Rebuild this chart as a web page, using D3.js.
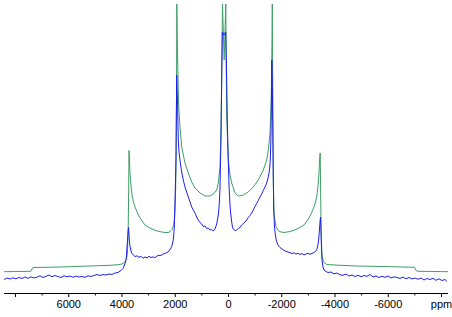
<!DOCTYPE html>
<html>
<head>
<meta charset="utf-8">
<script src="https://cdn.jsdelivr.net/npm/d3@7"></script>
<style>
html,body{margin:0;padding:0;background:#fff;}
svg{display:block;}
</style>
</head>
<body>
<div id="chart"></div>
<script>
// Chemical shift (ppm) and intensity (a.u.) — simulated spectrum (green)
const simPpm = [8413,7812,7399,7343,7287,6310,5183,4432,4132,3981,3869,3812,3775,3749,3730,3718,3700,3681,3643,3606,3549,3493,3399,3305,3117,2930,2742,2554,2366,2254,2178,2103,2047,2009,1979,1953,1934,1923,1904,1867,1840,1803,1739,1615,1491,1363,1239,1052,864,676,552,424,364,300,263,237,207,143,83,49,-11,-75,-139,-263,-387,-575,-762,-950,-1138,-1326,-1454,-1514,-1578,-1623,-1653,-1664,-1683,-1701,-1728,-1765,-1803,-1916,-2103,-2291,-2479,-2667,-2855,-3042,-3136,-3230,-3287,-3343,-3380,-3418,-3440,-3463,-3478,-3501,-3531,-3580,-3707,-4207,-4834,-6085,-7005,-7061,-7136,-8263];
const simInt = [18.3,18.5,18.7,22,22.5,23,24,24.7,25.3,26,28,31,38,60,100,139.5,130,117,104,95,88,83,77,72,65,62,59.7,58.3,57.5,57.5,58.3,60.5,64.5,71,85,120,190,286,250,197,178,163,143,127,117,108,102,97,94,94,96,100,107,123,163,210,286,230,286,173,130,115,107,97,94,95,98,103,110,120,130,140,157,190,250,286,190,110,77,69,63.3,58.5,57.5,58.3,59.7,62,65,72,77,83,88,95,104,117,130,137,100,55,35,28,25.5,24.7,24,23.3,22.7,19.5,18.7,18.3];

// Experimental spectrum (blue)
const expPpm = [8413,8301,8188,8075,7963,7850,7737,7625,7512,7399,7287,7174,7061,6949,6836,6723,6611,6498,6385,6273,6160,6047,5934,5822,5709,5596,5484,5371,5258,5146,5033,4920,4808,4695,4582,4470,4357,4244,4132,4019,3944,3869,3820,3782,3745,3734,3707,3681,3643,3606,3557,3493,3418,3343,3268,3193,3117,3042,2967,2892,2817,2742,2667,2592,2517,2441,2366,2291,2216,2160,2115,2077,2047,2017,1979,1953,1927,1904,1889,1867,1840,1803,1739,1679,1615,1551,1491,1427,1363,1303,1239,1176,1116,1052,988,928,864,800,740,676,612,552,488,424,364,327,300,263,237,214,150,86,56,26,0,-38,-75,-101,-139,-169,-199,-263,-327,-387,-451,-515,-575,-639,-702,-762,-826,-890,-950,-1014,-1078,-1138,-1202,-1266,-1326,-1390,-1454,-1514,-1559,-1589,-1615,-1634,-1645,-1664,-1679,-1698,-1716,-1747,-1784,-1822,-1878,-1953,-2028,-2103,-2178,-2254,-2329,-2404,-2479,-2554,-2629,-2704,-2779,-2855,-2930,-3005,-3080,-3155,-3230,-3287,-3332,-3369,-3399,-3429,-3456,-3474,-3493,-3512,-3531,-3568,-3606,-3681,-3756,-3869,-3981,-4094,-4207,-4319,-4432,-4545,-4657,-4770,-4883,-4995,-5108,-5221,-5334,-5446,-5559,-5672,-5784,-5897,-6010,-6122,-6235,-6348,-6460,-6573,-6686,-6798,-6911,-7024,-7136,-7249,-7362,-7474,-7587,-7700,-7812,-7925,-8038,-8150,-8226];
const expInt = [10.5,12,11,12.2,11.2,12.5,11.5,13,11.7,13.2,12,13,14.2,12.5,13.7,15,13.2,14.5,13.5,12.5,14.2,13.2,14,12.7,14,13,13.5,12.7,14.2,13.5,14.5,15.5,14.5,15.5,15,16,15.5,17,17.5,19.5,21.5,26,32,47,61,62.5,50,44,39,36.5,35,33.5,34.2,32.7,33.7,31.7,33,32.2,33.7,32.5,33.2,32.2,34,34.7,34.5,36,36.5,37.5,39,41,43.5,47,52,63,100,133,215,195,180,150,138,130,118,110,103,98,93,88,83,80,77,73,70,67.5,66,63.5,64,61.5,62,60,60.5,59,61,66,75,86,102,150,210,258,255,258,220,170,140,105,85,77,68,63,61,59.5,60,61.5,62.5,65,66.5,68,70,72.5,74.5,77,80,83.5,86.5,89.5,93,96,99.5,103,107,113,120,130,155,195,230,210,170,120,82,63,54,49,45,42.5,41,39.7,38.5,38,37.3,36.5,37.2,36,36.7,35.5,36.5,35,36,36.7,35.7,36.5,37.5,38.5,40.5,44,49,58,68,73,60,40,30,23,20,18.5,17.5,18,16.2,17,15.2,14.7,16,14,15,13.5,14.7,13.2,14.5,13.7,15.5,13,14,12.5,13.7,12.7,14,12,13.2,12.5,11.5,13,11.2,12.5,11,12,10.7,12,10,11.5,10.5,11.7,9.7,11.2,9.5,10.5,8.5];

const majorTicks = [8000,6000,4000,2000,0,-2000,-4000,-6000,-8000];
const tickLabels = ["","6000","4000","2000","0","-2000","-4000","-6000","ppm"];
const minorTicks = [7000,5000,3000,1000,-1000,-3000,-5000,-7000];

const W = 452, H = 317;
const svg = d3.select("#chart").append("svg").attr("width", W).attr("height", H);

const x = d3.scaleLinear().domain([8413, -8263]).range([4, 448]);
const y = d3.scaleLinear().domain([0, 285]).range([290, 5]);

const line = d3.line().x(d => x(d[0])).y(d => y(d[1]));

const simData = simPpm.map((p, i) => [p, simInt[i]]);
const expData = expPpm.map((p, i) => [p, expInt[i]]);

svg.append("path").datum(simData)
  .attr("d", line).attr("fill", "none")
  .attr("stroke", "#3f9e68").attr("stroke-width", 1).attr("stroke-linejoin", "round");

svg.append("path").datum(expData)
  .attr("d", line).attr("fill", "none")
  .attr("stroke", "#1f1fee").attr("stroke-width", 1).attr("stroke-linejoin", "round");

// Axis
const axisG = svg.append("g").attr("transform", "translate(0,293)");
const axis = d3.axisBottom(x)
  .tickValues(majorTicks)
  .tickFormat((d, i) => tickLabels[i])
  .tickSize(4).tickSizeOuter(0).tickPadding(3);
axisG.call(axis);
axisG.select(".domain").attr("d", `M${x.range()[0]},0.5H${x.range()[1]}`).attr("stroke", "#000");
axisG.selectAll(".tick line").attr("stroke", "#000");
axisG.selectAll("text")
  .attr("font-family", "'Liberation Sans', Arial, sans-serif")
  .attr("font-size", 11).attr("fill", "#000");

axisG.selectAll(".minor").data(minorTicks).enter().append("line")
  .attr("class", "minor")
  .attr("x1", d => x(d) + 0.5).attr("x2", d => x(d) + 0.5)
  .attr("y1", 0).attr("y2", 2.5)
  .attr("stroke", "#000");
</script>
</body>
</html>
